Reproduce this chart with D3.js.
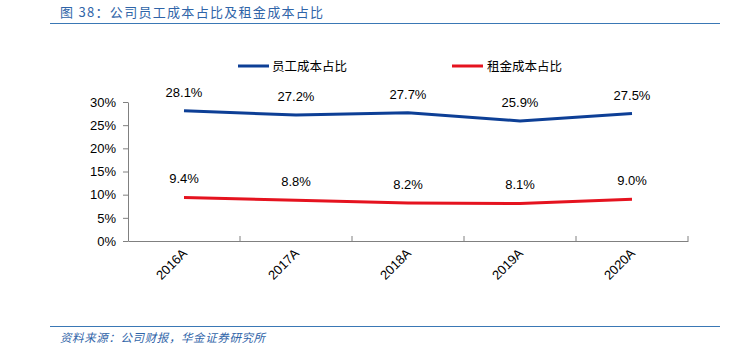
<!DOCTYPE html>
<html><head><meta charset="utf-8">
<script src="https://cdn.jsdelivr.net/npm/d3@7"></script>
<style>body{margin:0;background:#fff;}svg{display:block;}</style>
</head><body>
<script>
const categories = ["2016A","2017A","2018A","2019A","2020A"];
const staffShare = [28.1,27.2,27.7,25.9,27.5];
const rentShare = [9.4,8.8,8.2,8.1,9.0];
const yTicks = [0,5,10,15,20,25,30];
const seriesNames = ["员工成本占比","租金成本占比"];
const colors = ["#0d3f96","#e5131f"];

const W=741,H=349;
const svg=d3.select("body").append("svg").attr("width",W).attr("height",H);
const font="Liberation Sans, Arial, sans-serif";
const cjk="'Noto Sans CJK SC', sans-serif";

// title
svg.append("text").attr("x",60).attr("y",17).attr("font-family",cjk).attr("font-size",13)
  .attr("fill","#2f64a8").attr("letter-spacing",1.3).text("图 38：公司员工成本占比及租金成本占比");
svg.append("line").attr("x1",50).attr("x2",720).attr("y1",23.5).attr("y2",23.5).attr("stroke","#3a78b5").attr("stroke-width",1.2);
// footer
svg.append("line").attr("x1",50).attr("x2",720).attr("y1",326.5).attr("y2",326.5).attr("stroke","#3a78b5").attr("stroke-width",1.2);
svg.append("text").attr("x",60).attr("y",342).attr("font-family",cjk).attr("font-size",11.5)
  .attr("font-style","italic").attr("fill","#2f64a8").attr("letter-spacing",0.6).text("资料来源：公司财报，华金证券研究所");

const x=d3.scaleBand().domain(categories).range([128,688]);
const y=d3.scaleLinear().domain([0,30]).range([241,102]);

const yAxis=svg.append("g").attr("transform","translate(128,0)")
  .call(d3.axisLeft(y).tickValues(yTicks).tickFormat(d=>d+"%").tickSize(5).tickSizeOuter(0));
yAxis.select(".domain").attr("stroke","#808080");
yAxis.selectAll(".tick line").attr("stroke","#808080");
yAxis.selectAll("text").attr("font-family",font).attr("font-size",13).attr("fill","#000").attr("dx",-4);

const xAxis=svg.append("g").attr("transform","translate(0,241)")
  .call(d3.axisBottom(x).tickSize(0).tickSizeOuter(0));
xAxis.select(".domain").attr("stroke","#808080");
xAxis.selectAll(".tick text").remove();
// boundary ticks
const bounds=categories.map(c=>x(c)).concat([x.range()[1]]);
svg.append("g").selectAll("line").data(bounds.slice(1)).join("line")
  .attr("x1",d=>d).attr("x2",d=>d).attr("y1",236).attr("y2",241).attr("stroke","#808080");
svg.append("g").selectAll("text").data(categories).join("text")
  .attr("font-family",font).attr("font-size",13).attr("fill","#000").attr("text-anchor","end")
  .attr("transform",d=>`translate(${x(d)+x.bandwidth()/2+4},254) rotate(-45)`).text(d=>d);

const line=d3.line().x((d,i)=>x(categories[i])+x.bandwidth()/2).y(d=>y(d));
[staffShare,rentShare].forEach((s,k)=>{
  svg.append("path").datum(s).attr("d",line).attr("fill","none").attr("stroke",colors[k]).attr("stroke-width",3);
  svg.append("g").selectAll("text").data(s).join("text")
    .attr("x",(d,i)=>x(categories[i])+x.bandwidth()/2).attr("y",d=>y(d)-14)
    .attr("text-anchor","middle").attr("font-family",font).attr("font-size",13).attr("fill","#000")
    .text(d=>d.toFixed(1)+"%");
});

// legend
const leg=[[238,272],[452,487]];
seriesNames.forEach((n,k)=>{
  svg.append("line").attr("x1",leg[k][0]).attr("x2",leg[k][0]+31).attr("y1",66).attr("y2",66)
    .attr("stroke",colors[k]).attr("stroke-width",3);
  svg.append("text").attr("x",leg[k][1]).attr("y",70.5).attr("font-family",cjk).attr("font-size",12.5)
    .attr("fill","#000").text(n);
});
</script>
</body></html>
